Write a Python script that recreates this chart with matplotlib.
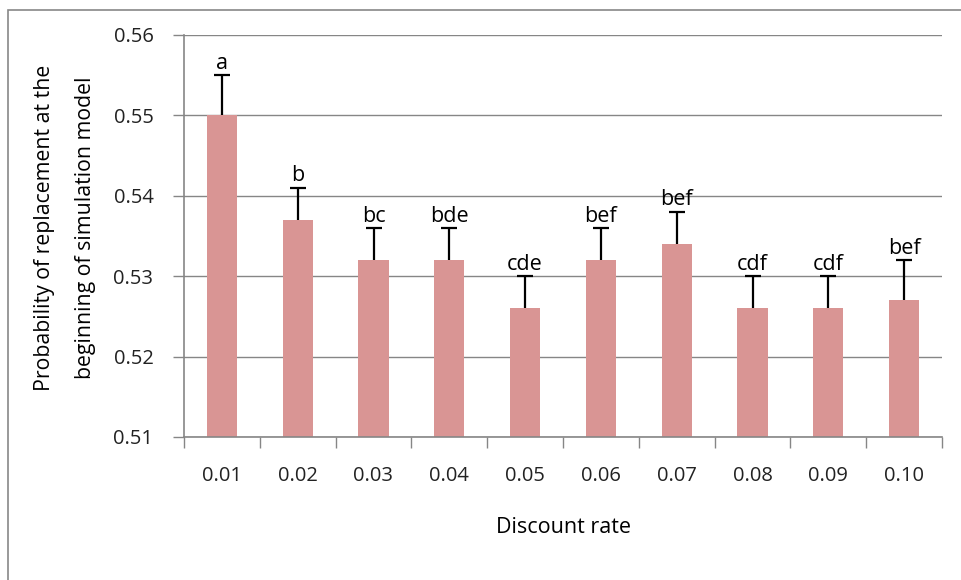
import matplotlib
matplotlib.use("Agg")
import matplotlib.pyplot as plt
from matplotlib.patches import Rectangle
import numpy as np

plt.rcParams['font.family'] = ['Open Sans', 'DejaVu Sans']

rates = ["0.01", "0.02", "0.03", "0.04", "0.05", "0.06", "0.07", "0.08", "0.09", "0.10"]
prob = [0.550, 0.537, 0.532, 0.532, 0.526, 0.532, 0.534, 0.526, 0.526, 0.527]
err = [0.005, 0.004, 0.004, 0.004, 0.004, 0.004, 0.004, 0.004, 0.004, 0.005]
groups = ["a", "b", "bc", "bde", "cde", "bef", "bef", "cdf", "cdf", "bef"]
yticks = [0.51, 0.52, 0.53, 0.54, 0.55, 0.56]

fig = plt.figure(figsize=(9.62, 5.8), dpi=100)
ax = fig.add_axes([184/962, 1-437/580, (942-184)/962, (437-35)/580])

# outer frame of the chart area
fig.patches.append(Rectangle((8/962, -0.05), 1.2, 1 - 10/580 + 0.05,
                             transform=fig.transFigure, fill=False,
                             edgecolor="#888888", linewidth=1.2))

x = np.arange(len(rates))
top = np.array(prob) + np.array(err)
ax.bar(x, prob, width=0.4, color="#D99594", zorder=2)
# upper-only error bars with a cap at the top
ax.vlines(x, prob, top, color="black", linewidth=1.6, zorder=3)
ax.plot(x, top, linestyle="none", marker="_", markersize=11,
        markeredgewidth=1.6, color="black", zorder=3)

for xi, t, g in zip(x, top, groups):
    ax.annotate(g, (xi, t), xytext=(0, 1), textcoords="offset points",
                ha="center", va="bottom", fontsize=15.5, zorder=4)

ax.set_ylim(0.51, 0.56)
ax.set_xlim(-0.5, len(rates) - 0.5)
ax.set_yticks(yticks)
ax.set_yticklabels([f"{v:.2f}" for v in yticks])
ax.yaxis.grid(True, color="#868686", linewidth=1, zorder=1)
ax.set_axisbelow(True)

ax.set_xticks(np.arange(-0.5, len(rates)), minor=False)
ax.set_xticklabels([])
ax.set_xticks(x, minor=True)
ax.set_xticklabels(rates, minor=True)
ax.tick_params(axis="x", which="major", length=8, color="#868686", width=1)
ax.tick_params(axis="x", which="minor", length=0, pad=21, labelsize=14.5, labelcolor="#222222")
ax.tick_params(axis="y", length=8, color="#868686", width=1, labelsize=14.5,
               labelcolor="#222222", pad=14)

for s in ["top", "right"]:
    ax.spines[s].set_visible(False)
for s in ["left", "bottom"]:
    ax.spines[s].set_color("#868686")
    ax.spines[s].set_linewidth(1.2)

ax.set_xlabel("Discount rate", fontsize=15.5, labelpad=22)
ax.set_ylabel("Probability of replacement at the\nbeginning of simulation model",
              fontsize=15.3, linespacing=2.2, va="center")
ax.yaxis.set_label_coords(-0.157, 0.52)

fig.savefig("out.png", dpi=100)
